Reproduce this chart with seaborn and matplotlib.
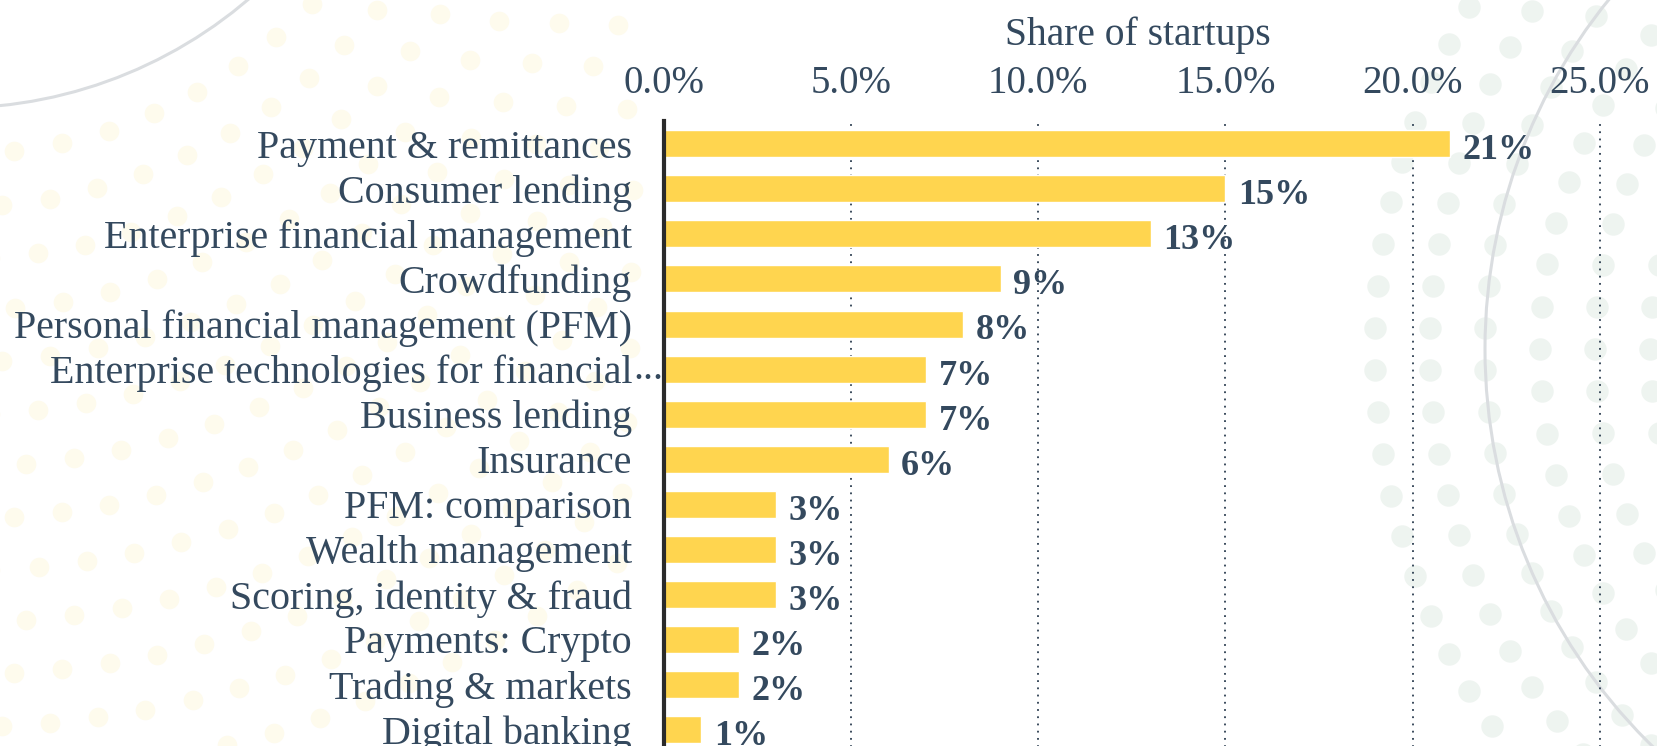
import numpy as np
import pandas as pd
import seaborn as sns
import matplotlib.pyplot as plt
from matplotlib.patches import Circle

categories = [
    "Payment & remittances",
    "Consumer lending",
    "Enterprise financial management",
    "Crowdfunding",
    "Personal financial management (PFM)",
    "Enterprise technologies for financial...",
    "Business lending",
    "Insurance",
    "PFM: comparison",
    "Wealth management",
    "Scoring, identity & fraud",
    "Payments: Crypto",
    "Trading & markets",
    "Digital banking",
]
shares = [21, 15, 13, 9, 8, 7, 7, 6, 3, 3, 3, 2, 2, 1]
bar_labels = ["21%", "15%", "13%", "9%", "8%", "7%", "7%", "6%", "3%", "3%", "3%", "2%", "2%", "1%"]
x_ticks = [0, 5, 10, 15, 20, 25]
x_tick_labels = ["0.0%", "5.0%", "10.0%", "15.0%", "20.0%", "25.0%"]

TEXT = "#34495e"
BAR = "#FFD54F"
W, H = 1658, 746

sns.set_theme(style="white")
plt.rcParams["font.family"] = ["Liberation Serif", "DejaVu Serif"]

fig = plt.figure(figsize=(W / 100, H / 100), dpi=100)

# faint decorative background (arcs + dot rings)
bg = fig.add_axes([0, 0, 1, 1], zorder=0)
bg.set_xlim(0, W)
bg.set_ylim(H, 0)
bg.axis("off")


def ring_dots(cx, cy, radii, step, size, color, xmin, xmax):
    for r in radii:
        n = int(2 * np.pi * r / step)
        t = np.linspace(0, 2 * np.pi, n, endpoint=False)
        xs = cx + r * np.cos(t)
        ys = cy + r * np.sin(t)
        keep = (xs > xmin) & (xs < xmax) & (ys > -20) & (ys < H + 20)
        bg.scatter(xs[keep], ys[keep], s=size, color=color, linewidths=0)


ring_dots(2040, 349, range(390, 700, 55), 42, 260, "#eef4f0", 1340, W + 20)
ring_dots(-46, -345, range(500, 1150, 52), 48, 200, "#fefbed", -20, 640)
bg.add_patch(Circle((2040, 349), 555, fill=False, ec="#dadde0", lw=2.2))
bg.add_patch(Circle((-46, -345), 453, fill=False, ec="#dadde0", lw=2.2))

# main chart
ax = fig.add_axes([664 / W, (H - 752) / H, 947 / W, 630.7 / H], zorder=1)
ax.patch.set_alpha(0)

df = pd.DataFrame({"category": categories, "share": shares})
df["tick"] = df["category"].str.rstrip(".")
sns.barplot(data=df, x="share", y="tick", orient="h", color=BAR,
            saturation=1, width=0.6, ax=ax, zorder=2)

ax.set_xlim(0, 25.3)
ax.set_ylim(13.5, -0.5)
for x in x_ticks[1:]:
    ax.axvline(x, color="#2c3e50", lw=1.3, ls=(0, (1, 3)), zorder=0)

ax.xaxis.tick_top()
ax.xaxis.set_label_position("top")
ax.set_xticks(x_ticks, x_tick_labels)
ax.set_xlabel("Share of startups", fontsize=28.5, color=TEXT, labelpad=14)
ax.set_ylabel("")
ax.tick_params(axis="x", length=0, pad=14, labelsize=28, labelcolor=TEXT)
ax.tick_params(axis="y", length=0, pad=23, labelsize=28.8, labelcolor=TEXT)

for s in ["top", "right", "bottom"]:
    ax.spines[s].set_visible(False)
ax.spines["left"].set_color("#2b2b2b")
ax.spines["left"].set_linewidth(3)

texts = ax.bar_label(ax.containers[0], labels=bar_labels, padding=9,
                     fontsize=26, fontweight="bold", color=TEXT)
for t in texts:
    t.xyann = (t.xyann[0], -5)

# overflowing ellipsis on the truncated label
for i, name in enumerate(categories):
    if name.endswith("..."):
        ax.annotate("...", xy=(0, i), xycoords=("axes fraction", "data"),
                    xytext=(-22, 0), textcoords="offset points",
                    ha="left", va="center", fontsize=28.8, color=TEXT)

fig.savefig("out.png", dpi=100)
